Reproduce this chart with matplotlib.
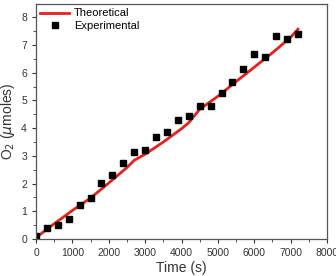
import matplotlib
matplotlib.use("Agg")
import matplotlib.pyplot as plt
from matplotlib.ticker import MultipleLocator

plt.rcParams["font.family"] = ["Liberation Sans", "DejaVu Sans"]

# experimental points
exp_time = [0, 300, 600, 900, 1200, 1500, 1800, 2100, 2400, 2700, 3000, 3300, 3600,
            3900, 4200, 4500, 4800, 5100, 5400, 5700, 6000, 6300, 6600, 6900, 7200]
exp_o2 = [0.10, 0.40, 0.50, 0.73, 1.22, 1.47, 2.03, 2.32, 2.73, 3.13, 3.22, 3.67, 3.87,
          4.28, 4.44, 4.80, 4.80, 5.28, 5.65, 6.15, 6.67, 6.55, 7.33, 7.23, 7.40]

# theoretical curve
theo_time = [0, 500, 1000, 1500, 2000, 2500, 2700, 3000, 3500, 4000, 4200, 4500,
             5000, 5500, 6000, 6500, 7000, 7200]
theo_o2 = [0.05, 0.55, 1.03, 1.48, 2.02, 2.58, 2.84, 3.06, 3.50, 3.98, 4.20, 4.68,
           5.15, 5.68, 6.20, 6.72, 7.28, 7.57]

fig = plt.figure(figsize=(3.36, 2.76), dpi=100)
ax = fig.add_axes([36 / 336, 1 - 239 / 276, (327 - 36) / 336, (239 - 4) / 276])

ax.plot(theo_time, theo_o2, color="#e8201c", linewidth=2, label="Theoretical")
ax.plot(exp_time, exp_o2, "s", color="black", markersize=4, linestyle="none",
        label="Experimental")

ax.set_xlim(0, 8000)
ax.set_ylim(0, 8.48)
ax.xaxis.set_major_locator(MultipleLocator(1000))
ax.xaxis.set_minor_locator(MultipleLocator(500))
ax.yaxis.set_major_locator(MultipleLocator(1))
ax.yaxis.set_minor_locator(MultipleLocator(0.5))
ax.tick_params(which="both", direction="out", labelsize=7.5, colors="#333333",
               top=False, right=False)
ax.tick_params(which="major", length=3, width=0.8)
ax.tick_params(which="minor", length=2, width=0.6)
for s in ax.spines.values():
    s.set_color("#555555")
    s.set_linewidth(0.9)

ax.set_xlabel("Time (s)", fontsize=10, color="#333333", labelpad=2)
ax.set_ylabel(r"O$_2$ ($\mu$moles)", fontsize=10, color="#333333", labelpad=3)

ax.legend(loc="upper left", frameon=False, fontsize=8, handlelength=2.6,
          borderaxespad=0.2, labelspacing=0.25, handletextpad=0.4,
          borderpad=0.2)

fig.savefig("out.png", dpi=100)
